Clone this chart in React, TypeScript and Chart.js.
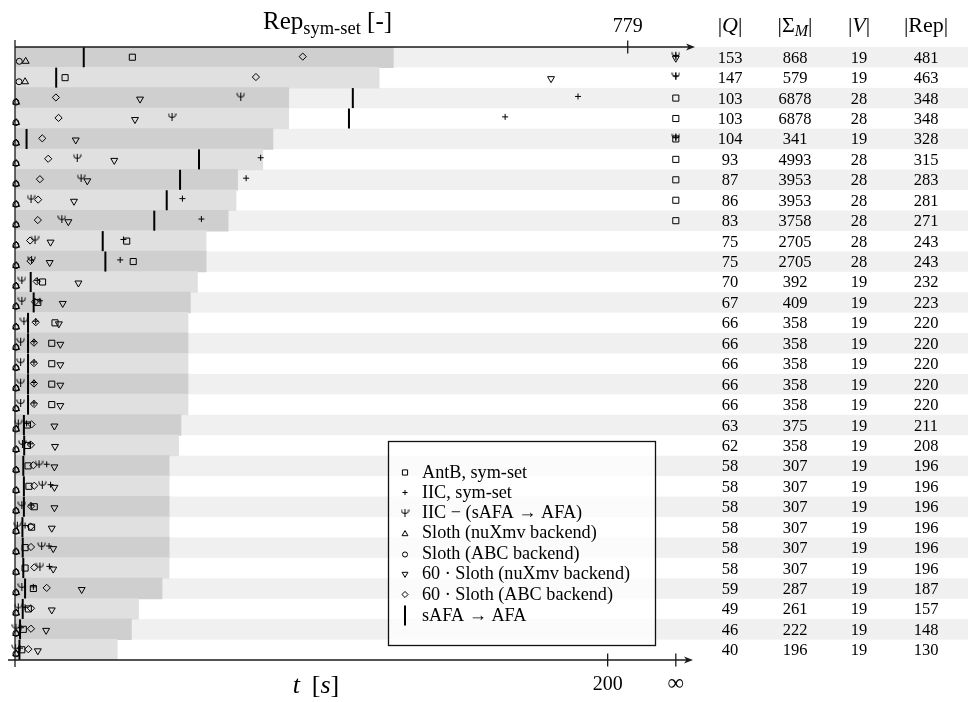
import React, { useEffect, useRef } from 'react';
import { Chart, registerables } from 'chart.js';
import { drawPoint } from 'chart.js/helpers';

Chart.register(...registerables);

// position of the "∞" tick on the time axis (time-outs)
const INF = 223;

const tTicks = [200, INF];
const tTickLabels = ['200', '∞'];
const repTicks = [779];
const repTickLabels = ['779'];

// table columns (one entry per benchmark row, top to bottom)
const colQ = [153, 147, 103, 103, 104, 93, 87, 86, 83, 75, 75, 70, 67, 66, 66, 66, 66, 66, 63, 62, 58, 58, 58, 58, 58, 58, 59, 49, 46, 40];
const colSigma = [868, 579, 6878, 6878, 341, 4993, 3953, 3953, 3758, 2705, 2705, 392, 409, 358, 358, 358, 358, 358, 375, 358, 307, 307, 307, 307, 307, 307, 287, 261, 222, 196];
const colV = [19, 19, 28, 28, 19, 28, 28, 28, 28, 28, 28, 19, 19, 19, 19, 19, 19, 19, 19, 19, 19, 19, 19, 19, 19, 19, 19, 19, 19, 19];
const colRep = [481, 463, 348, 348, 328, 315, 283, 281, 271, 243, 243, 232, 223, 220, 220, 220, 220, 220, 211, 208, 196, 196, 196, 196, 196, 196, 187, 157, 148, 130];

// run times [s]
const tAntB = [39.6, 16.9, INF, INF, INF, INF, INF, INF, INF, 37.7, 39.9, 9.3, 7.7, 13.5, 12.4, 12.4, 12.4, 12.4, 4.2, 4.2, 4.4, 4.7, 6.5, 5.6, 3.4, 3.4, 6.2, 4.5, 2.8, 2.3];
const tIIC = [INF, INF, 190, 165.4, INF, 82.9, 78, 56.5, 62.9, 36.6, 35.5, 7.5, 8.4, 7.0, 6.4, 6.4, 6.4, 6.4, 3.9, 5.1, 10.7, 12.0, 5.4, 3.4, 11.5, 11.6, 6.2, 3.4, 2.0, 1.7];
const tIICminus = [INF, INF, 76.2, 53, INF, 21, 22.3, 5.4, 15.8, 6.75, 5.6, 2.3, 2.3, 3.0, 1.9, 1.9, 1.9, 1.9, 1.1, 2.5, 8.1, 9.2, 2.3, 0.8, 9.0, 8.4, 2.3, 1.1, 0.3, 0.2];
const tSlothNuXmv = [3.6, 3.4, 0.4, 0.4, 0.4, 0.4, 0.4, 0.4, 0.4, 0.4, 0.4, 0.4, 0.4, 0.4, 0.4, 0.4, 0.4, 0.4, 0.4, 0.4, 0.4, 0.4, 0.4, 0.4, 0.4, 0.4, 0.4, 0.4, 0.4, 0.4];
const tSlothABC = [1.45, 1.35, 0.3, 0.3, 0.3, 0.3, 0.3, 0.3, 0.3, 0.3, 0.3, 0.3, 0.3, 0.3, 0.3, 0.3, 0.3, 0.3, 0.3, 0.3, 0.3, 0.3, 0.3, 0.3, 0.3, 0.3, 0.3, 0.3, 0.3, 0.3];
const t60SlothNuXmv = [INF, 180.9, 42.2, 40.5, 20.5, 33.5, 24.4, 19.9, 18, 12, 11.7, 21.4, 16.1, 14.8, 15.3, 15.3, 15.3, 15.3, 13.3, 13.5, 13.3, 13.3, 13.3, 12.4, 12.9, 12.9, 22.5, 12.4, 10.5, 7.7];
const t60SlothABC = [97.1, 81.3, 13.8, 14.7, 9.2, 11.2, 8.4, 7.8, 7.7, 5.1, 5.2, 7.3, 6.75, 7.0, 6.4, 6.4, 6.4, 6.4, 5.6, 5.4, 6.2, 6.5, 5.4, 5.3, 5.4, 6.5, 10.7, 5.4, 5.4, 4.5];
const tSafa = [23.2, 13.9, 114, 112.7, 3.9, 62.1, 55.7, 51.2, 47, 29.6, 30.5, 5.3, 6.3, 4.4, 4.4, 4.4, 4.4, 4.4, 3.0, 3.1, 2.8, 3.0, 3.0, 2.5, 2.6, 2.8, 3.4, 2.6, 1.7, 1.5];

const legendLabels = [
  'AntB, sym-set',
  'IIC, sym-set',
  'IIC − (sAFA → AFA)',
  'Sloth (nuXmv backend)',
  'Sloth (ABC backend)',
  '60 · Sloth (nuXmv backend)',
  '60 · Sloth (ABC backend)',
  'sAFA → AFA',
];

const SERIF = '"Liberation Serif", "DejaVu Serif", serif';

// plot frame inside the 968×702 canvas
const PLOT_LEFT = 15;
const PLOT_TOP = 47;
const PLOT_RIGHT = 693;
const PLOT_BOTTOM = 660;

function makePsi() {
  const c = document.createElement('canvas');
  c.width = 9;
  c.height = 9;
  const g = c.getContext('2d')!;
  g.strokeStyle = '#000';
  g.lineWidth = 1;
  g.beginPath();
  g.moveTo(4.5, 1);
  g.lineTo(4.5, 9);
  g.moveTo(1, 1.5);
  g.lineTo(1, 3);
  g.quadraticCurveTo(1, 5.5, 4.5, 5.5);
  g.quadraticCurveTo(8, 5.5, 8, 3);
  g.lineTo(8, 1.5);
  g.stroke();
  return c;
}

type Part = { t: string; f: string; dy?: number };
function rich(ctx: CanvasRenderingContext2D, parts: Part[], x: number, y: number, align: 'left' | 'center') {
  let w = 0;
  for (const p of parts) {
    ctx.font = p.f;
    w += ctx.measureText(p.t).width;
  }
  let cx = align === 'center' ? x - w / 2 : x;
  ctx.textAlign = 'left';
  ctx.textBaseline = 'alphabetic';
  for (const p of parts) {
    ctx.font = p.f;
    ctx.fillText(p.t, cx, y + (p.dy || 0));
    cx += ctx.measureText(p.t).width;
  }
}

export default function App() {
  const ref = useRef<HTMLCanvasElement>(null);

  useEffect(() => {
    document.body.style.margin = '0';
    const canvas = ref.current!;
    const psi = makePsi();

    const series = [
      { label: legendLabels[0], data: tAntB, style: 'rect', r: 4.3, rot: 0, bw: 1, dy: 0 },
      { label: legendLabels[1], data: tIIC, style: 'cross', r: 3, rot: 0, bw: 1, dy: -0.08 },
      { label: legendLabels[2], data: tIICminus, style: psi, r: 4, rot: 0, bw: 1, dy: -0.1 },
      { label: legendLabels[3], data: tSlothNuXmv, style: 'triangle', r: 4, rot: 0, bw: 1, dy: 0.2 },
      { label: legendLabels[4], data: tSlothABC, style: 'circle', r: 3, rot: 0, bw: 1, dy: 0.2 },
      { label: legendLabels[5], data: t60SlothNuXmv, style: 'triangle', r: 4, rot: 180, bw: 1, dy: 0.05 },
      { label: legendLabels[6], data: t60SlothABC, style: 'rectRot', r: 3.6, rot: 0, bw: 1, dy: -0.03 },
      { label: legendLabels[7], data: tSafa, style: 'line', r: 10, rot: 90, bw: 2, dy: 0 },
    ];

    const scatterSets = series.map((s, k) => ({
      type: 'scatter' as const,
      label: s.label,
      data: s.data
        .map((t, i) => (t == null ? null : { x: t, y: i + s.dy }))
        .filter((p) => p !== null),
      xAxisID: 'xt',
      yAxisID: 'y',
      pointStyle: s.style as any,
      pointRadius: s.r,
      pointRotation: s.rot,
      pointBorderWidth: s.bw,
      borderColor: '#000',
      backgroundColor: 'rgba(0,0,0,0)',
      pointBackgroundColor: 'rgba(0,0,0,0)',
      pointBorderColor: '#000',
      clip: false as any,
      order: 8 - k,
    }));

    const rowHeight = (PLOT_BOTTOM - PLOT_TOP) / colRep.length;
    const barSet = {
      type: 'bar' as const,
      label: '|Rep|',
      indexAxis: 'y' as const,
      data: colRep.map((v, i) => ({ x: v, y: i })),
      xAxisID: 'xr',
      yAxisID: 'y',
      backgroundColor: colRep.map((_, i) => (i % 2 === 0 ? '#cfcfcf' : '#e0e0e0')),
      borderWidth: 0,
      grouped: false,
      barThickness: rowHeight + 0.4,
      order: 100,
    };

    const stripes = {
      id: 'stripes',
      beforeDatasetsDraw(chart: any) {
        const { ctx, chartArea, scales } = chart;
        const y = scales.y;
        ctx.save();
        ctx.fillStyle = '#f0f0f0';
        for (let i = 0; i < colRep.length; i += 2) {
          const a = y.getPixelForValue(i - 0.5);
          const b = y.getPixelForValue(i + 0.5);
          ctx.fillRect(chartArea.left, Math.min(a, b), chart.width - chartArea.left, Math.abs(b - a));
        }
        ctx.restore();
      },
    };

    const decor = {
      id: 'decor',
      afterDatasetsDraw(chart: any) {
        const { ctx, chartArea: ca, scales } = chart;
        const xt = scales.xt;
        const xr = scales.xr;
        const y = scales.y;
        ctx.save();
        ctx.strokeStyle = '#1a1a1a';
        ctx.fillStyle = '#1a1a1a';
        ctx.lineWidth = 1.3;
        const line = (x1: number, y1: number, x2: number, y2: number) => {
          ctx.beginPath();
          ctx.moveTo(x1, y1);
          ctx.lineTo(x2, y2);
          ctx.stroke();
        };
        const arrow = (tip: number, yy: number) => {
          ctx.beginPath();
          ctx.moveTo(tip, yy);
          ctx.lineTo(tip - 9, yy - 3.6);
          ctx.lineTo(tip - 6.5, yy);
          ctx.lineTo(tip - 9, yy + 3.6);
          ctx.closePath();
          ctx.fill();
        };
        // vertical axis
        line(ca.left, ca.top - 7, ca.left, ca.bottom + 7);
        // top axis (Rep)
        line(ca.left, ca.top, ca.right - 4, ca.top);
        arrow(ca.right + 2, ca.top);
        // bottom axis (time)
        line(ca.left - 7, ca.bottom, ca.right - 6, ca.bottom);
        arrow(ca.right, ca.bottom);

        ctx.fillStyle = '#000';
        repTicks.forEach((v, k) => {
          const x = xr.getPixelForValue(v);
          line(x, ca.top - 6.5, x, ca.top + 6.5);
          rich(ctx, [{ t: repTickLabels[k], f: `20px ${SERIF}` }], x, 32, 'center');
        });
        tTicks.forEach((v, k) => {
          const x = xt.getPixelForValue(v);
          line(x, ca.bottom - 6.5, x, ca.bottom + 6.5);
          const lbl = tTickLabels[k];
          rich(ctx, [{ t: lbl, f: lbl === '∞' ? `23px ${SERIF}` : `20px ${SERIF}` }], x, 690, 'center');
        });

        // axis titles
        rich(
          ctx,
          [
            { t: 'Rep', f: `25px ${SERIF}` },
            { t: 'sym-set', f: `18.5px ${SERIF}`, dy: 5 },
            { t: ' [-]', f: `25px ${SERIF}` },
          ],
          263,
          29,
          'left'
        );
        rich(
          ctx,
          [
            { t: 't', f: `italic 26px ${SERIF}` },
            { t: '\u2009 [', f: `26px ${SERIF}` },
            { t: 's', f: `italic 26px ${SERIF}` },
            { t: ']', f: `26px ${SERIF}` },
          ],
          316,
          693,
          'center'
        );

        // table headers
        const H = `22px ${SERIF}`;
        const HI = `italic 22px ${SERIF}`;
        const colX = [730, 795, 859, 926];
        rich(ctx, [{ t: '|', f: H }, { t: 'Q', f: HI }, { t: '|', f: H }], colX[0], 32, 'center');
        rich(
          ctx,
          [{ t: '|Σ', f: H }, { t: 'M', f: `italic 16px ${SERIF}`, dy: 4 }, { t: '|', f: H }],
          colX[1],
          32,
          'center'
        );
        rich(ctx, [{ t: '|', f: H }, { t: 'V', f: HI }, { t: '|', f: H }], colX[2], 32, 'center');
        rich(ctx, [{ t: '|Rep|', f: H }], colX[3], 32, 'center');

        // table body
        ctx.font = `16.5px ${SERIF}`;
        ctx.textAlign = 'center';
        ctx.textBaseline = 'alphabetic';
        const cols = [colQ, colSigma, colV, colRep];
        for (let i = 0; i < colRep.length; i++) {
          const yy = y.getPixelForValue(i) + 5.5;
          cols.forEach((c, k) => ctx.fillText(String(c[i]), colX[k], yy));
        }
        ctx.restore();
      },
      afterDraw(chart: any) {
        const { ctx } = chart;
        ctx.save();
        // legend box
        const bx = 388.5, by = 441.5, bw = 267, bh = 204;
        ctx.fillStyle = 'rgba(255,255,255,0.72)';
        ctx.fillRect(bx, by, bw, bh);
        ctx.strokeStyle = '#111';
        ctx.lineWidth = 1.3;
        ctx.strokeRect(bx, by, bw, bh);
        const ys = [472.5, 492.5, 512.5, 533, 553.5, 574, 594.5, 615.5];
        series.forEach((s, k) => {
          ctx.save();
          ctx.strokeStyle = '#000';
          ctx.fillStyle = 'rgba(0,0,0,0)';
          ctx.lineWidth = s.bw;
          const r = s.style === 'line' ? 10 : s.r * 0.85;
          drawPoint(ctx, { pointStyle: s.style as any, radius: r, rotation: s.rot, borderWidth: s.bw } as any, 405, ys[k] + (k === 3 || k === 4 ? 1 : 0));
          ctx.restore();
          ctx.fillStyle = '#000';
          ctx.font = `18.2px ${SERIF}`;
          ctx.textAlign = 'left';
          ctx.textBaseline = 'alphabetic';
          ctx.fillText(s.label, 422, ys[k] + 5);
        });
        ctx.restore();
      },
    };

    const chart = new Chart(canvas, {
      type: 'scatter',
      data: { datasets: [barSet as any, ...scatterSets] },
      options: {
        animation: false,
        responsive: false,
        maintainAspectRatio: false,
        events: [],
        layout: { padding: { left: PLOT_LEFT, top: PLOT_TOP, right: 968 - PLOT_RIGHT, bottom: 702 - PLOT_BOTTOM } },
        plugins: { legend: { display: false }, tooltip: { enabled: false } },
        scales: {
          xt: { type: 'linear', axis: 'x', position: 'bottom', min: 0, max: 228.8, display: false, offset: false, grid: { display: false } },
          xr: { type: 'linear', axis: 'x', position: 'top', min: 0, max: 862, display: false, offset: false, grid: { display: false } },
          y: {
            type: 'linear',
            axis: 'y',
            min: -0.5,
            max: 29.5,
            reverse: true,
            display: false,
            offset: false,
            grid: { display: false },
            afterBuildTicks: (scale: any) => {
              scale.ticks = colRep.map((_, i) => ({ value: i }));
            },
          },
        } as any,
      },
      plugins: [stripes, decor],
    });
    return () => chart.destroy();
  }, []);

  return (
    <div style={{ width: 968, height: 702 }}>
      <canvas ref={ref} width={968} height={702} style={{ display: 'block', width: 968, height: 702 }} />
    </div>
  );
}
